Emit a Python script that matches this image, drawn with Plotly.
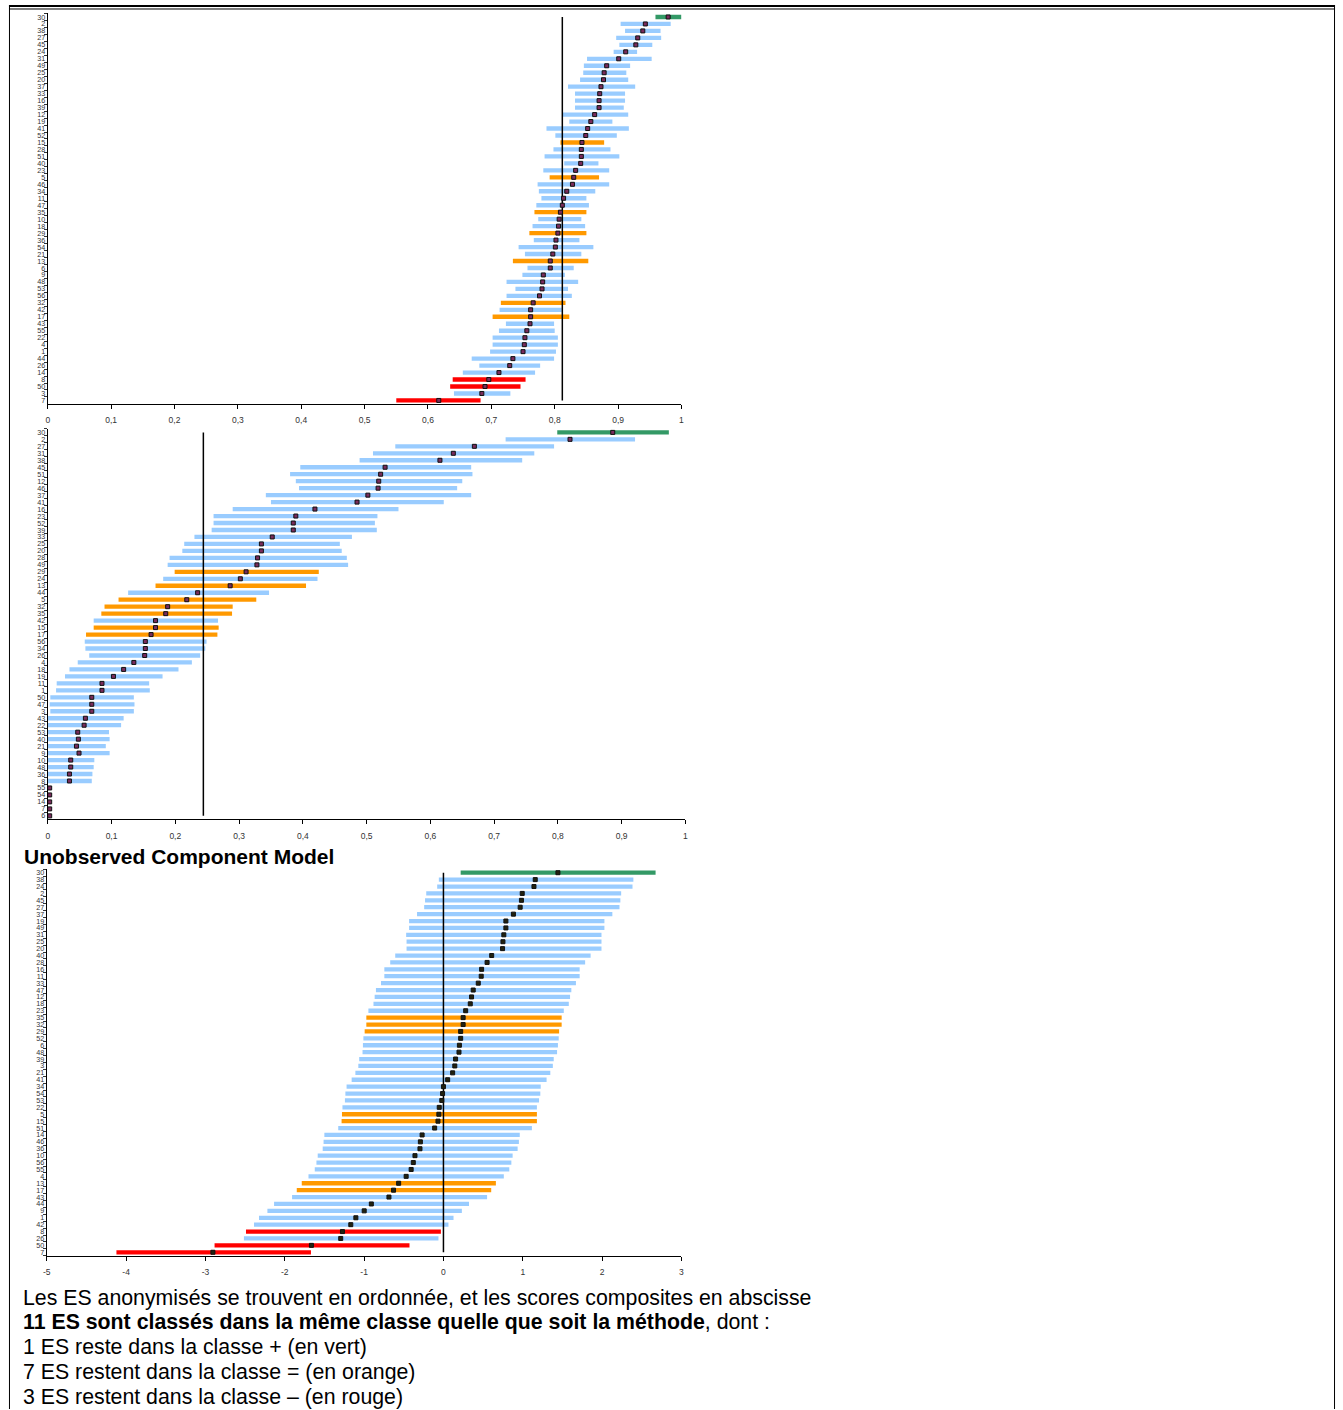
import plotly.graph_objects as go

W, H = 1343, 1410

# ---------------- Panel 1 : scores on [0, 1] ----------------
P1_ES = [30, 2, 38, 27, 45, 24, 31, 49, 25, 20, 37, 33, 16, 39, 12, 19, 41, 52, 15, 28,
         51, 40, 23, 5, 46, 34, 11, 47, 35, 10, 18, 29, 36, 54, 21, 13, 6, 9, 48, 53,
         56, 32, 42, 17, 43, 55, 22, 4, 1, 44, 26, 14, 8, 50, 3, 7]
P1_LOW = [0.959, 0.904, 0.911, 0.897, 0.902, 0.893, 0.851, 0.846, 0.845, 0.840,
          0.821, 0.832, 0.832, 0.832, 0.813, 0.823, 0.787, 0.801, 0.809, 0.798,
          0.784, 0.815, 0.782, 0.792, 0.773, 0.775, 0.779, 0.771, 0.768, 0.774,
          0.765, 0.760, 0.767, 0.743, 0.753, 0.734, 0.757, 0.749, 0.724, 0.738,
          0.724, 0.715, 0.713, 0.702, 0.723, 0.712, 0.702, 0.702, 0.698, 0.669,
          0.681, 0.655, 0.639, 0.635, 0.641, 0.550]
P1_SCORE = [0.979, 0.943, 0.939, 0.931, 0.928, 0.912, 0.901, 0.882, 0.878, 0.877,
            0.873, 0.871, 0.870, 0.870, 0.863, 0.857, 0.852, 0.849, 0.843, 0.842,
            0.842, 0.841, 0.833, 0.830, 0.828, 0.819, 0.814, 0.812, 0.809, 0.807,
            0.806, 0.805, 0.802, 0.801, 0.797, 0.793, 0.793, 0.782, 0.781, 0.780,
            0.776, 0.766, 0.762, 0.762, 0.761, 0.756, 0.753, 0.752, 0.750, 0.734,
            0.729, 0.712, 0.696, 0.690, 0.685, 0.617]
P1_HIGH = [1.000, 0.983, 0.967, 0.968, 0.954, 0.930, 0.953, 0.919, 0.913, 0.916,
           0.927, 0.911, 0.911, 0.909, 0.916, 0.891, 0.917, 0.898, 0.878, 0.888,
           0.902, 0.869, 0.886, 0.870, 0.886, 0.864, 0.850, 0.854, 0.850, 0.842,
           0.848, 0.850, 0.839, 0.861, 0.842, 0.853, 0.830, 0.816, 0.837, 0.821,
           0.827, 0.817, 0.811, 0.823, 0.799, 0.800, 0.805, 0.805, 0.802, 0.799,
           0.777, 0.769, 0.754, 0.746, 0.730, 0.683]
P1_REF = 0.812
P1_GREEN = [30]
P1_ORANGE = [15, 5, 35, 29, 13, 32, 17]
P1_RED = [8, 50, 7]

# ---------------- Panel 2 : scores on [0, 1] ----------------
P2_ES = [30, 2, 27, 31, 38, 45, 51, 12, 46, 37, 41, 16, 23, 52, 39, 33, 25, 20, 28, 49,
         29, 24, 13, 44, 5, 32, 35, 42, 15, 17, 56, 34, 26, 4, 18, 19, 11, 1, 50, 47,
         3, 43, 22, 53, 40, 21, 9, 10, 48, 36, 8, 55, 54, 14, 7, 6]
P2_LOW = [0.799, 0.718, 0.545, 0.510, 0.489, 0.396, 0.380, 0.389, 0.394, 0.342,
          0.350, 0.290, 0.260, 0.260, 0.257, 0.230, 0.214, 0.211, 0.191, 0.188,
          0.199, 0.181, 0.169, 0.126, 0.111, 0.089, 0.084, 0.072, 0.072, 0.060,
          0.058, 0.059, 0.065, 0.047, 0.034, 0.027, 0.014, 0.013, 0.004, 0.003,
          0.004, 0.0, 0.0, 0.0, 0.0, 0.0, 0.0, 0.0, 0.0, 0.0,
          0.0, None, None, None, None, None]
P2_SCORE = [0.886, 0.819, 0.669, 0.636, 0.615, 0.529, 0.522, 0.519, 0.518, 0.502,
            0.485, 0.419, 0.389, 0.385, 0.385, 0.352, 0.335, 0.335, 0.329, 0.328,
            0.311, 0.302, 0.286, 0.235, 0.218, 0.188, 0.185, 0.169, 0.169, 0.162,
            0.153, 0.153, 0.152, 0.135, 0.119, 0.103, 0.085, 0.085, 0.069, 0.069,
            0.069, 0.059, 0.057, 0.047, 0.048, 0.045, 0.049, 0.036, 0.036, 0.034,
            0.034, 0.003, 0.003, 0.003, 0.003, 0.003]
P2_HIGH = [0.974, 0.921, 0.794, 0.763, 0.744, 0.664, 0.666, 0.650, 0.642, 0.664,
           0.621, 0.550, 0.517, 0.513, 0.516, 0.477, 0.458, 0.461, 0.469, 0.471,
           0.425, 0.423, 0.405, 0.347, 0.327, 0.290, 0.289, 0.267, 0.268, 0.266,
           0.249, 0.247, 0.239, 0.226, 0.205, 0.180, 0.159, 0.160, 0.135, 0.136,
           0.135, 0.119, 0.115, 0.096, 0.097, 0.091, 0.097, 0.073, 0.072, 0.070,
           0.069, None, None, None, None, None]
P2_REF = 0.244
P2_GREEN = [30]
P2_ORANGE = [29, 13, 5, 32, 35, 15, 17]
P2_RED = []

# ---------------- Panel 3 : Unobserved Component Model ----------------
P3_ES = [30, 38, 24, 2, 45, 27, 37, 19, 49, 31, 25, 20, 40, 28, 16, 11, 33, 47, 12, 18,
         23, 35, 32, 29, 52, 6, 48, 39, 3, 21, 41, 34, 54, 53, 22, 5, 15, 51, 14, 46,
         36, 10, 56, 55, 4, 13, 17, 43, 44, 9, 1, 42, 8, 26, 50, 7]
P3_LOW = [0.217, -0.058, -0.079, -0.217, -0.232, -0.243, -0.333, -0.433, -0.433, -0.470,
          -0.465, -0.465, -0.608, -0.671, -0.745, -0.745, -0.787, -0.851, -0.867, -0.882,
          -0.946, -0.972, -0.972, -0.993, -1.009, -1.015, -1.020, -1.062, -1.073, -1.110,
          -1.157, -1.221, -1.236, -1.242, -1.273, -1.279, -1.284, -1.326, -1.501, -1.511,
          -1.522, -1.585, -1.601, -1.622, -1.701, -1.786, -1.849, -1.908, -2.135, -2.219,
          -2.325, -2.388, -2.489, -2.515, -2.885, -4.122]
P3_SCORE = [1.443, 1.157, 1.141, 0.993, 0.983, 0.967, 0.882, 0.787, 0.787, 0.761,
            0.750, 0.745, 0.608, 0.550, 0.481, 0.476, 0.439, 0.375, 0.354, 0.338,
            0.280, 0.248, 0.248, 0.217, 0.217, 0.201, 0.196, 0.153, 0.143, 0.116,
            0.053, 0.000, -0.011, -0.021, -0.053, -0.058, -0.069, -0.111, -0.269, -0.291,
            -0.296, -0.359, -0.380, -0.407, -0.470, -0.565, -0.629, -0.687, -0.909, -0.999,
            -1.104, -1.168, -1.273, -1.295, -1.664, -2.906]
P3_HIGH = [2.674, 2.394, 2.383, 2.240, 2.230, 2.219, 2.129, 2.029, 2.029, 1.992,
           1.992, 1.992, 1.855, 1.786, 1.717, 1.717, 1.670, 1.612, 1.596, 1.580,
           1.517, 1.490, 1.490, 1.458, 1.453, 1.443, 1.432, 1.390, 1.379, 1.347,
           1.300, 1.226, 1.221, 1.205, 1.178, 1.178, 1.178, 1.115, 0.962, 0.951,
           0.935, 0.872, 0.856, 0.830, 0.761, 0.661, 0.602, 0.550, 0.322, 0.232,
           0.127, 0.063, -0.032, -0.063, -0.428, -1.670]
P3_REF = 0.0
P3_GREEN = [30]
P3_ORANGE = [35, 32, 29, 5, 15, 13, 17]
P3_RED = [8, 50, 7]

P12_TICKS = [0, 0.1, 0.2, 0.3, 0.4, 0.5, 0.6, 0.7, 0.8, 0.9, 1]
P12_TICKTEXT = ["0", "0,1", "0,2", "0,3", "0,4", "0,5", "0,6", "0,7", "0,8", "0,9", "1"]
P3_TICKS = [-5, -4, -3, -2, -1, 0, 1, 2, 3]
P3_TICKTEXT = ["-5", "-4", "-3", "-2", "-1", "0", "1", "2", "3"]

TITLE_3 = "Unobserved Component Model"
NOTES = [
    "Les ES anonymisés se trouvent en ordonnée, et les scores composites en abscisse",
    "<b>11 ES sont classés dans la même classe quelle que soit la méthode</b>, dont :",
    "1 ES reste dans la classe + (en vert)",
    "7 ES restent dans la classe = (en orange)",
    "3 ES restent dans la classe \u2013 (en rouge)",
]

BLUE, ORANGE, RED, GREEN = "#99ccff", "#ff9900", "#ff0000", "#339966"
FONT = "Arial, Liberation Sans, sans-serif"


def px_x(p):
    return p / W


def px_y(p):
    return 1 - p / H


def row_colors(es, green, orange, red):
    out = []
    for e in es:
        if e in green:
            out.append(GREEN)
        elif e in orange:
            out.append(ORANGE)
        elif e in red:
            out.append(RED)
        else:
            out.append(BLUE)
    return out


fig = go.Figure()

panels = [
    dict(es=P1_ES, lo=P1_LOW, pt=P1_SCORE, hi=P1_HIGH, ref=P1_REF,
         g=P1_GREEN, o=P1_ORANGE, r=P1_RED, xr=[0, 1], tv=P12_TICKS, tt=P12_TICKTEXT,
         xpx=(44, 681), ypx=(12.5, 403.5), mk="#7a2b5c"),
    dict(es=P2_ES, lo=P2_LOW, pt=P2_SCORE, hi=P2_HIGH, ref=P2_REF,
         g=P2_GREEN, o=P2_ORANGE, r=P2_RED, xr=[0, 1], tv=P12_TICKS, tt=P12_TICKTEXT,
         xpx=(44, 685), ypx=(428.5, 819.5), mk="#7a2b5c"),
    dict(es=P3_ES, lo=P3_LOW, pt=P3_SCORE, hi=P3_HIGH, ref=P3_REF,
         g=P3_GREEN, o=P3_ORANGE, r=P3_RED, xr=[-5, 3], tv=P3_TICKS, tt=P3_TICKTEXT,
         xpx=(43, 681), ypx=(869.5, 1256.5), mk="#22220f"),
]

for i, p in enumerate(panels, start=1):
    xa = "x" if i == 1 else f"x{i}"
    ya = "y" if i == 1 else f"y{i}"
    cats = [str(e) for e in p["es"]]
    widths = [None if (l is None or h is None) else h - l for l, h in zip(p["lo"], p["hi"])]

    # confidence interval of each ES
    fig.add_trace(go.Bar(
        y=cats, x=widths, base=p["lo"], orientation="h",
        marker=dict(color=row_colors(p["es"], p["g"], p["o"], p["r"]), line=dict(width=0)),
        width=0.62, xaxis=xa, yaxis=ya, showlegend=False, hoverinfo="skip",
    ))
    # reference line
    fig.add_trace(go.Scatter(
        x=[p["ref"], p["ref"]], y=[cats[0], cats[-1]], mode="lines",
        line=dict(color="black", width=1.5), xaxis=xa, yaxis=ya,
        showlegend=False, hoverinfo="skip",
    ))
    # composite score
    fig.add_trace(go.Scatter(
        x=p["pt"], y=cats, mode="markers",
        marker=dict(symbol="square", size=4, color=p["mk"], line=dict(color="#111", width=1)),
        xaxis=xa, yaxis=ya, showlegend=False, hoverinfo="skip",
    ))

    x0, x1 = p["xpx"]
    ytop, ybot = p["ypx"]
    fig.layout[f"xaxis{'' if i == 1 else i}"] = dict(
        domain=[px_x(x0), px_x(x1)], range=p["xr"], anchor=ya,
        tickvals=p["tv"], ticktext=p["tt"], ticks="outside", ticklen=4, tickwidth=1,
        tickcolor="black", showline=True, linecolor="black", linewidth=1,
        showgrid=False, zeroline=False, ticklabelstandoff=4,
        tickfont=dict(family=FONT, size=8.5, color="#333"),
    )
    fig.layout[f"yaxis{'' if i == 1 else i}"] = dict(
        domain=[px_y(ybot), px_y(ytop)], type="category", categoryorder="array",
        categoryarray=cats, range=[len(cats) - 0.5, -0.5], anchor=xa,
        tickmode="array", tickvals=cats, ticktext=cats,
        ticks="outside", ticklen=3, tickwidth=1, tickcolor="#333", tickson="boundaries",
        showline=True, linecolor="black", linewidth=1, showgrid=False, zeroline=False,
        tickfont=dict(family=FONT, size=7.2, color="#333"),
    )

annotations = [dict(
    text=f"<b>{TITLE_3}</b>", x=px_x(19), y=px_y(857), xref="paper", yref="paper",
    xanchor="left", yanchor="middle", showarrow=False, borderpad=0,
    font=dict(family=FONT, size=21, color="black"),
)]
for k, line in enumerate(NOTES):
    annotations.append(dict(
        text=line, x=px_x(18), y=px_y(1298.5 + 24.8 * k), xref="paper", yref="paper",
        xanchor="left", yanchor="middle", showarrow=False, borderpad=0,
        font=dict(family=FONT, size=21.3, color="black"),
    ))

# page frame around the figure
shapes = [
    dict(type="line", xref="paper", yref="paper", x0=px_x(5), x1=px_x(1338),
         y0=px_y(5), y1=px_y(5), line=dict(color="black", width=2)),
    dict(type="line", xref="paper", yref="paper", x0=px_x(5), x1=px_x(1338),
         y0=px_y(8), y1=px_y(8), line=dict(color="black", width=1)),
    dict(type="line", xref="paper", yref="paper", x0=px_x(5.5), x1=px_x(5.5),
         y0=px_y(4), y1=px_y(1410), line=dict(color="black", width=1)),
    dict(type="line", xref="paper", yref="paper", x0=px_x(1337.5), x1=px_x(1337.5),
         y0=px_y(4), y1=px_y(1410), line=dict(color="black", width=1)),
]

fig.update_layout(
    width=W, height=H, margin=dict(l=0, r=0, t=0, b=0, pad=0),
    paper_bgcolor="white", plot_bgcolor="white",
    annotations=annotations, shapes=shapes, bargap=0.38,
    font=dict(family=FONT),
)

fig.write_html("out.html")
